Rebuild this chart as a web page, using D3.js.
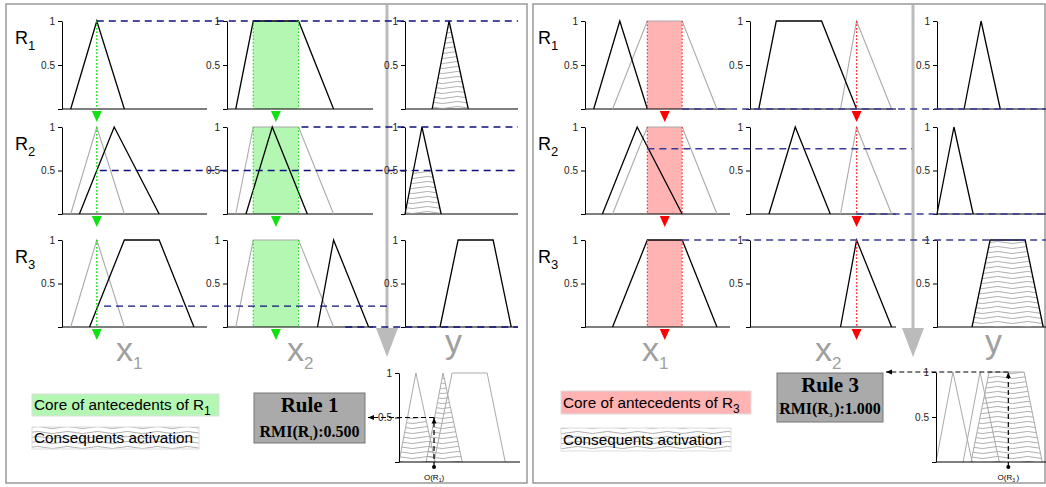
<!DOCTYPE html>
<html>
<head>
<meta charset="utf-8">
<script src="https://cdn.jsdelivr.net/npm/d3@7"></script>
<style>
body { margin: 0; background: #fff; }
svg { display: block; font-family: Arial, "Liberation Sans", sans-serif; }
</style>
</head>
<body>
<div id="chart"></div>
<script>
// membership functions [a, b, c, d] on a 0..10 universe, one per rule
var x1Sets = [[0.6, 2.4, 2.4, 4.3], [1.2, 3.6, 3.6, 6.7], [1.9, 4.3, 6.7, 9.1]];
var x2Sets = [[0.6, 1.8, 4.9, 7.3], [1.3, 3.1, 3.1, 5.5], [6.2, 7.3, 7.3, 9.7]];
var ySets  = [[2.4, 3.9, 3.9, 5.6], [0, 1.5, 1.5, 3.2], [3.1, 4.7, 7.8, 9.4]];
var ruleNames = ["1", "2", "3"];
var yTicks = [0, 0.5, 1];

// one panel per examined rule
var focusRule = [0, 2];
var activation = [[1, 0.5, 0], [0, 0, 1]];
var rmiValue = ["0.500", "1.000"];
var outputValue = [3.1, 6.4];

// dashed level lines: [row, level, fromPlot, fromValue, toPlot, toValue]
var levelLines = [
    [[0, 1, "x1", 2.4, "y", 10], [1, 0.5, "x1", 2.6, "y", 10], [1, 1, "x2", 5.1, "y", 10],
     [2, 0.24, "x1", 2.9, "x2", 11.1], [2, 0, "x2", 8.1, "y", 10]],
    [[0, 0, "x1", 6.7, "y", 10], [1, 0.75, "x1", 4.3, "x2", 11.1], [1, 0, "x2", 7.3, "y", 10],
     [2, 1, "x1", 6.7, "y", 10]]
];

var W = 1046, H = 487;
var rowTop = [21, 127, 240], rowBase = [109, 214, 327];
var plotW = {x1: 145, x2: 146, y: 113};
var serif = "'Liberation Serif', 'Times New Roman', serif";

var panels = [
    {bx: 6, bw: 521, plots: {x1: 62, x2: 227, y: 405}, arrowX: 387, rowLabelX: 15,
     labels: {x1: 116, x2: 287, y: 445},
     core: {x: 32, y: 394, w: 187, h: 22, ty: 410}, cons: {x: 32, y: 427, w: 167, h: 22, ty: 443},
     fill: "#b3f7b3", line: "#22dd22", mark: "#11e011", dash: "#10107e",
     box: {x: 254, y: 393, w: 111, h: 50, t1: 412, t2: 437},
     out: {x: 399, top: 373, end: 520}},
    {bx: 533, bw: 512, plots: {x1: 585, x2: 750, y: 937}, arrowX: 913, rowLabelX: 538,
     labels: {x1: 642, x2: 815, y: 985},
     core: {x: 561, y: 391, w: 190, h: 23, ty: 408}, cons: {x: 561, y: 428, w: 170, h: 23, ty: 445},
     fill: "#ffb3b3", line: "#ff3030", mark: "#ff0000", dash: "#3a3a96",
     box: {x: 777, y: 373, w: 106, h: 49, t1: 392, t2: 414},
     out: {x: 936, top: 372, end: 1046}}
];

var svg = d3.select("#chart").append("svg").attr("width", W).attr("height", H);
svg.append("rect").attr("width", W).attr("height", H).attr("fill", "#fff");

var defs = svg.append("defs");
defs.append("pattern").attr("id", "wave").attr("patternUnits", "userSpaceOnUse")
    .attr("width", 30).attr("height", 5)
    .append("path").attr("d", "M0,2.5 Q7.5,0.4 15,2.5 T30,2.5")
    .attr("fill", "none").attr("stroke", "#999").attr("stroke-width", 0.8);
defs.append("marker").attr("id", "arr").attr("viewBox", "0 0 10 10")
    .attr("refX", 10).attr("refY", 5).attr("markerWidth", 6).attr("markerHeight", 6)
    .attr("markerUnits", "userSpaceOnUse").attr("orient", "auto")
    .append("path").attr("d", "M0,1 L10,5 L0,9 Z").attr("fill", "#000");

// text with subscripts: parts = [[string, isSub], ...]
function richText(g, x, y, parts, size, subSize) {
    var t = g.append("text").attr("x", x).attr("y", y).attr("font-size", size);
    var down = false;
    parts.forEach(function(p) {
        var s = t.append("tspan").text(p[0]);
        if (p[1]) { s.attr("font-size", subSize).attr("dy", subSize * 0.45); down = true; }
        else if (down) { s.attr("dy", -subSize * 0.45); down = false; }
    });
    return t;
}

function trapPoints(s, h) {
    return [[s[0], 0], [s[0] + (s[1] - s[0]) * h, h], [s[3] - (s[3] - s[2]) * h, h], [s[3], 0]];
}

function drawAxes(g, xs, ys, end) {
    var ax = d3.axisLeft(ys).tickValues(yTicks).tickSize(4).tickSizeOuter(0)
        .tickFormat(function(d) { return d === 0 ? "" : (d === 1 ? "1" : "0.5"); });
    var a = g.append("g").attr("transform", "translate(" + xs(0) + ",0)").call(ax);
    a.attr("font-family", null);
    a.selectAll("text").attr("font-size", 10).attr("fill", "#222");
    a.select(".domain").attr("stroke", "#000");
    g.append("line").attr("x1", xs(0)).attr("x2", end)
        .attr("y1", ys(0)).attr("y2", ys(0)).attr("stroke", "#000").attr("stroke-width", 1.2);
}

function drawSet(g, xs, ys, s, color, w) {
    var line = d3.line().x(function(d) { return xs(d[0]); }).y(function(d) { return ys(d[1]); });
    g.append("path").attr("d", line(trapPoints(s, 1)))
        .attr("fill", "none").attr("stroke", color).attr("stroke-width", w);
}

function drawHatch(g, xs, ys, s, h) {
    if (h <= 0) return;
    var line = d3.line().x(function(d) { return xs(d[0]); }).y(function(d) { return ys(d[1]); });
    g.append("path").attr("d", line(trapPoints(s, h)) + "Z").attr("fill", "url(#wave)");
}

panels.forEach(function(p, pi) {
    var g = svg.append("g");
    var fr = focusRule[pi];
    var sx = {};
    ["x1", "x2", "y"].forEach(function(k) {
        sx[k] = d3.scaleLinear().domain([0, 10]).range([p.plots[k], p.plots[k] + plotW[k]]);
    });

    g.append("rect").attr("x", p.bx).attr("y", 4).attr("width", p.bw).attr("height", 479)
        .attr("fill", "none").attr("stroke", "#999").attr("stroke-width", 1.5);

    // gray flow arrow between antecedents and consequents
    g.append("line").attr("x1", p.arrowX).attr("x2", p.arrowX).attr("y1", 5).attr("y2", 330)
        .attr("stroke", "#bbb").attr("stroke-width", 3);
    g.append("path").attr("d", "M" + (p.arrowX - 11) + ",328 L" + (p.arrowX + 11) + ",328 L" + p.arrowX + ",357 Z")
        .attr("fill", "#bbb");

    ruleNames.forEach(function(rn, ri) {
        var ys = d3.scaleLinear().domain([0, 1]).range([rowBase[ri], rowTop[ri]]);
        richText(g, p.rowLabelX, rowTop[ri] + 23, [["R", false], [rn, true]], 18, 13).attr("fill", "#000");

        [["x1", x1Sets], ["x2", x2Sets]].forEach(function(pair) {
            var k = pair[0], sets = pair[1], xs = sx[k];
            var core = sets[fr];
            if (core[2] > core[1]) {
                g.append("rect").attr("x", xs(core[1])).attr("y", ys(1))
                    .attr("width", xs(core[2]) - xs(core[1])).attr("height", ys(0) - ys(1))
                    .attr("fill", p.fill);
            }
            drawAxes(g, xs, ys, xs(10));
            if (ri !== fr) drawSet(g, xs, ys, sets[fr], "#aaa", 1.1);
            drawSet(g, xs, ys, sets[ri], "#000", 1.3);
            [core[1], core[2]].forEach(function(v) {
                g.append("line").attr("x1", xs(v)).attr("x2", xs(v))
                    .attr("y1", ys(1)).attr("y2", ys(0))
                    .attr("stroke", p.line).attr("stroke-width", 1.2).attr("stroke-dasharray", "1.5,2");
            });
            var cx = xs((core[1] + core[2]) / 2), by = ys(0);
            g.append("path").attr("d", "M" + (cx - 5) + "," + (by + 2) + " L" + (cx + 5) + "," + (by + 2) + " L" + cx + "," + (by + 13) + " Z")
                .attr("fill", p.mark);
        });

        drawAxes(g, sx.y, ys, sx.y(10));
        drawHatch(g, sx.y, ys, ySets[ri], activation[pi][ri]);
        drawSet(g, sx.y, ys, ySets[ri], "#000", 1.3);
    });

    levelLines[pi].forEach(function(l) {
        var ys = d3.scaleLinear().domain([0, 1]).range([rowBase[l[0]], rowTop[l[0]]]);
        g.append("line").attr("x1", sx[l[2]](l[3])).attr("x2", sx[l[4]](l[5]))
            .attr("y1", ys(l[1])).attr("y2", ys(l[1]))
            .attr("stroke", p.dash).attr("stroke-width", 1.3)
            .attr("stroke-dasharray", "7,5");
    });

    // variable names
    var lab = g.append("g").attr("fill", "#a0a0a0");
    richText(lab, p.labels.x1, 361, [["x", false], ["1", true]], 34, 17);
    richText(lab, p.labels.x2, 361, [["x", false], ["2", true]], 34, 17);
    lab.append("text").attr("x", p.labels.y).attr("y", 353).attr("font-size", 34).text("y");

    // legend
    var rn = ruleNames[fr];
    g.append("rect").attr("x", p.core.x).attr("y", p.core.y).attr("width", p.core.w).attr("height", p.core.h)
        .attr("fill", p.fill).attr("stroke", "#ddd");
    richText(g, p.core.x + 2, p.core.ty, [["Core of antecedents of R", false], [rn, true]], 15.3, 12).attr("fill", "#000");
    g.append("rect").attr("x", p.cons.x).attr("y", p.cons.y).attr("width", p.cons.w).attr("height", p.cons.h)
        .attr("fill", "url(#wave)").attr("stroke", "#ddd");
    g.append("text").attr("x", p.cons.x + 2).attr("y", p.cons.ty).attr("font-size", 15.3).text("Consequents activation");

    // rule box
    g.append("rect").attr("x", p.box.x).attr("y", p.box.y).attr("width", p.box.w).attr("height", p.box.h)
        .attr("fill", "#aaa").attr("stroke", "#777");
    g.append("text").attr("x", p.box.x + p.box.w / 2).attr("y", p.box.t1).attr("text-anchor", "middle")
        .style("font-family", serif).attr("font-weight", "bold")
        .attr("font-size", 21).text("Rule " + rn);
    richText(g, p.box.x + p.box.w / 2, p.box.t2,
        [["RMI(R", false], [pi === 0 ? rn : rn + " ", true], ["):" + rmiValue[pi], false]], 16, 7)
        .attr("text-anchor", "middle").attr("font-weight", "bold")
        .style("font-family", serif);

    // aggregated output
    var ox = d3.scaleLinear().domain([0, 10]).range([p.out.x, p.out.x + 113]);
    var oy = d3.scaleLinear().domain([0, 1]).range([462, p.out.top]);
    ySets.forEach(function(s, i) {
        drawHatch(g, ox, oy, s, activation[pi][i]);
        drawSet(g, ox, oy, s, "#aaa", 1);
    });
    drawAxes(g, ox, oy, p.out.end);
    var lvl = +rmiValue[pi], vx = ox(outputValue[pi]);
    g.append("line").attr("x1", vx).attr("x2", vx).attr("y1", 467).attr("y2", oy(lvl))
        .attr("stroke", "#000").attr("stroke-width", 1.2).attr("stroke-dasharray", "5,3")
        .attr("marker-end", "url(#arr)");
    g.append("line").attr("x1", vx).attr("x2", p.box.x + p.box.w + 3).attr("y1", oy(lvl)).attr("y2", oy(lvl))
        .attr("stroke", "#000").attr("stroke-width", 1.2).attr("stroke-dasharray", "5,3")
        .attr("marker-end", "url(#arr)");
    g.append("circle").attr("cx", vx).attr("cy", 467).attr("r", 2).attr("fill", "#000");
    richText(g, vx, 480, [["O(R", false], [pi === 0 ? rn : rn + "  ", true], [")", false]], 8, 5)
        .attr("text-anchor", "middle").attr("fill", "#000");
});
</script>
</body>
</html>
